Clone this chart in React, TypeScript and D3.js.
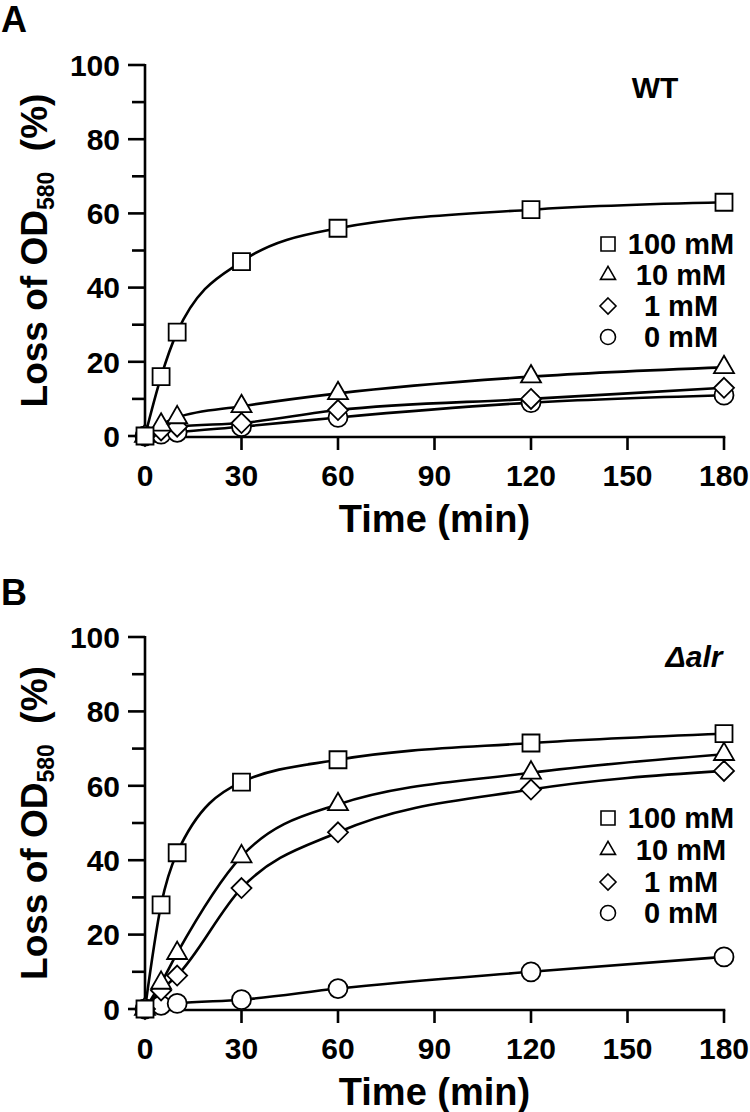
import React from "react";
import * as d3 from "d3";

const times = [0, 5, 10, 30, 60, 120, 180];
const seriesLabels = ["100 mM", "10 mM", "1 mM", "0 mM"];
const seriesShapes = ["square", "triangle", "diamond", "circle"];

// Panel A (WT)
const wt100 = [0, 16, 28, 47, 56, 61, 63];
const wt10 = [0, 3, 5, 8, 11.5, 16, 18.5];
const wt1 = [0, 1.5, 2.5, 3.5, 7, 10, 13];
const wt0 = [0, 0.5, 1, 2.5, 5, 9, 11];

// Panel B (Δalr)
const alr100 = [0, 28, 42, 61, 67, 71.5, 74];
const alr10 = [0, 7, 15, 41, 55, 63.5, 68.5];
const alr1 = [0, 5, 9, 32.5, 47.5, 59, 64];
const alr0 = [0, 1, 1.5, 2.5, 5.5, 10, 14];

const xTicks = [0, 30, 60, 90, 120, 150, 180];
const yMajorTicks = [0, 20, 40, 60, 80, 100];
const yMinorTicks = [10, 30, 50, 70, 90];

const FONT = "'Liberation Sans', Arial, Helvetica, sans-serif";

function shapePath(shape: string, s: number): string {
  const h = s / 2;
  if (shape === "square") return `M${-h},${-h}H${h}V${h}H${-h}Z`;
  if (shape === "triangle") {
    const r = s * 0.58;
    return `M0,${-r}L${s * 0.5},${r * 0.5}L${-s * 0.5},${r * 0.5}Z`;
  }
  if (shape === "diamond") return `M0,${-h}L${h},0L0,${h}L${-h},0Z`;
  const r = h;
  return `M${r},0A${r},${r} 0 1,1 ${-r},0A${r},${r} 0 1,1 ${r},0Z`;
}

const markerSize: Record<string, number> = { square: 17, triangle: 20, diamond: 20, circle: 19 };
const legendSize: Record<string, number> = { square: 14, triangle: 15, diamond: 16, circle: 15 };

type PanelProps = {
  top: number;
  bottom: number;
  letter: string;
  letterY: number;
  tag: string;
  tagX: number;
  tagValue: number;
  italic: boolean;
  data: number[][];
  legendYs: number[];
};

function Panel({ top, bottom, letter, letterY, tag, tagX, tagValue, italic, data, legendYs }: PanelProps) {
  const x = d3.scaleLinear().domain([0, 180]).range([145, 724]);
  const y = d3.scaleLinear().domain([0, 100]).range([bottom, top]);
  const line = d3
    .line<number>()
    .x((_, i) => x(times[i]))
    .y((d) => y(d))
    .curve(d3.curveMonotoneX);
  const axisX = x(0);
  const axisY = y(0) + 1;
  const midY = (y(0) + y(100)) / 2;
  return (
    <g>
      <text x={1} y={letterY} fontFamily={FONT} fontWeight="bold" fontSize={36}>
        {letter}
      </text>
      <line x1={axisX} x2={axisX} y1={y(100) - 1} y2={axisY} stroke="#000" strokeWidth={2.6} />
      {yMajorTicks.map((t) => (
        <g key={"ym" + t}>
          <line x1={axisX - 17} x2={axisX} y1={y(t)} y2={y(t)} stroke="#000" strokeWidth={2.6} />
          <text
            x={axisX - 25}
            y={y(t)}
            dy="0.36em"
            textAnchor="end"
            fontFamily={FONT}
            fontWeight="bold"
            fontSize={30}
          >
            {t}
          </text>
        </g>
      ))}
      {yMinorTicks.map((t) => (
        <line key={"yn" + t} x1={axisX - 13} x2={axisX} y1={y(t)} y2={y(t)} stroke="#000" strokeWidth={2.6} />
      ))}
      <line x1={axisX} x2={x(180) + 1.3} y1={axisY} y2={axisY} stroke="#000" strokeWidth={2.6} />
      {xTicks.map((t) => (
        <g key={"xt" + t}>
          {t > 0 && <line x1={x(t)} x2={x(t)} y1={axisY} y2={axisY + 13} stroke="#000" strokeWidth={2.6} />}
          <text
            x={x(t)}
            y={axisY + 38}
            dy="0.36em"
            textAnchor="middle"
            fontFamily={FONT}
            fontWeight="bold"
            fontSize={30}
          >
            {t}
          </text>
        </g>
      ))}
      <text
        x={(x(0) + x(180)) / 2}
        y={axisY + 81}
        dy="0.36em"
        textAnchor="middle"
        fontFamily={FONT}
        fontWeight="bold"
        fontSize={38}
      >
        Time (min)
      </text>
      <text
        transform={`translate(47,${midY}) rotate(-90)`}
        textAnchor="middle"
        fontFamily={FONT}
        fontWeight="bold"
        fontSize={37}
        style={{ whiteSpace: "pre" }}
      >
        <tspan>Loss of OD</tspan>
        <tspan fontSize={23} dy={7}>
          580
        </tspan>
        <tspan dy={-7}>{"  (%)"}</tspan>
      </text>
      <text
        x={tagX}
        y={y(tagValue)}
        textAnchor="middle"
        fontFamily={FONT}
        fontWeight="bold"
        fontStyle={italic ? "italic" : "normal"}
        fontSize={30}
      >
        {tag}
      </text>
      {data.map((vals, si) => (
        <path key={"l" + si} d={line(vals) || ""} fill="none" stroke="#000" strokeWidth={2.6} />
      ))}
      {data
        .map((vals, si) => ({ vals, si }))
        .reverse()
        .map(({ vals, si }) => (
          <g key={"m" + si}>
            {vals.map((v, i) => (
              <path
                key={i}
                transform={`translate(${x(times[i])},${y(v)})`}
                d={shapePath(seriesShapes[si], markerSize[seriesShapes[si]])}
                fill="#fff"
                stroke="#000"
                strokeWidth={1.8}
              />
            ))}
          </g>
        ))}
      {seriesLabels.map((lab, si) => (
        <g key={"lg" + si}>
          <path
            transform={`translate(608,${legendYs[si]})`}
            d={shapePath(seriesShapes[si], legendSize[seriesShapes[si]])}
            fill="#fff"
            stroke="#000"
            strokeWidth={1.6}
          />
          <text
            x={681}
            y={legendYs[si]}
            dy="0.36em"
            textAnchor="middle"
            fontFamily={FONT}
            fontWeight="bold"
            fontSize={29}
          >
            {lab}
          </text>
        </g>
      ))}
    </g>
  );
}

export default function App() {
  return (
    <svg
      width={750}
      height={1112}
      viewBox="0 0 750 1112"
      style={{ position: "absolute", left: 0, top: 0, background: "#fff" }}
    >
      <rect width={750} height={1112} fill="#fff" />
      <Panel
        top={65}
        bottom={436}
        letter="A"
        letterY={32}
        tag="WT"
        tagX={655}
        tagValue={91}
        italic={false}
        data={[wt100, wt10, wt1, wt0]}
        legendYs={[244, 275, 306, 337]}
      />
      <Panel
        top={637}
        bottom={1009}
        letter="B"
        letterY={605}
        tag="Δalr"
        tagX={694}
        tagValue={92}
        italic={true}
        data={[alr100, alr10, alr1, alr0]}
        legendYs={[818, 850, 882, 913]}
      />
    </svg>
  );
}
